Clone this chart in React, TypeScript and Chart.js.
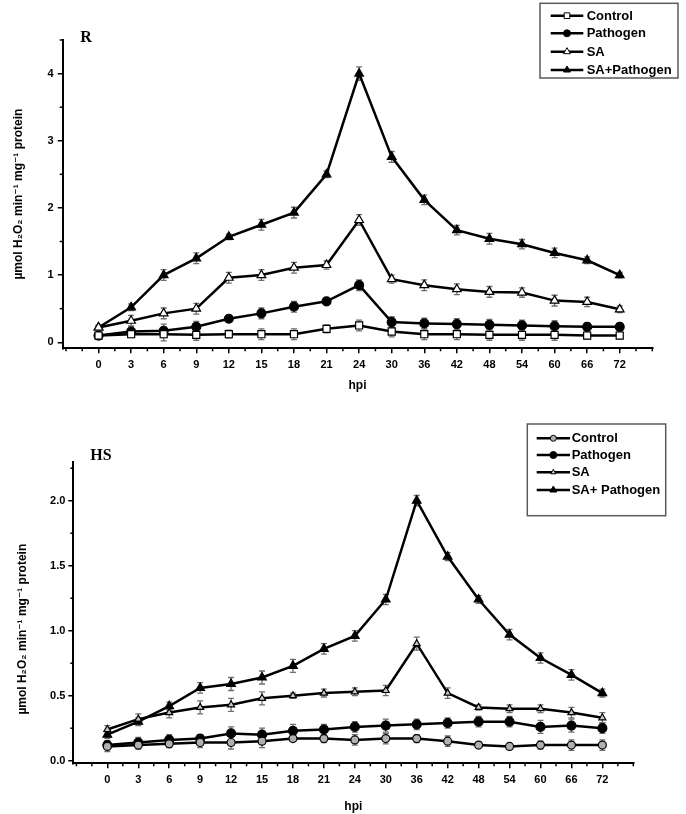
import { useEffect, useRef } from 'react';
import { Chart, registerables } from 'chart.js';

Chart.register(...registerables);

// ---------- data ----------
const hpiLabels = ['0', '3', '6', '9', '12', '15', '18', '21', '24', '30', '36', '42', '48', '54', '60', '66', '72'];

// Panel R
const rControl = [0.10, 0.12, 0.12, 0.11, 0.12, 0.12, 0.12, 0.20, 0.25, 0.16, 0.12, 0.12, 0.11, 0.11, 0.11, 0.10, 0.10];
const rControlErr = [0.03, 0.05, 0.10, 0.08, 0.06, 0.08, 0.08, 0.06, 0.08, 0.08, 0.08, 0.08, 0.08, 0.08, 0.08, 0.05, 0.05];
const rPathogen = [0.10, 0.16, 0.17, 0.23, 0.35, 0.43, 0.53, 0.61, 0.85, 0.30, 0.28, 0.27, 0.26, 0.25, 0.24, 0.23, 0.23];
const rPathogenErr = [0.03, 0.08, 0.10, 0.08, 0.05, 0.08, 0.08, 0.05, 0.08, 0.08, 0.08, 0.08, 0.08, 0.08, 0.08, 0.06, 0.06];
const rSA = [0.22, 0.32, 0.43, 0.50, 0.96, 1.00, 1.11, 1.15, 1.82, 0.94, 0.85, 0.79, 0.75, 0.74, 0.62, 0.60, 0.49];
const rSAErr = [0.03, 0.08, 0.08, 0.08, 0.08, 0.08, 0.08, 0.06, 0.08, 0.06, 0.08, 0.08, 0.08, 0.07, 0.08, 0.07, 0.05];
const rSAPathogen = [0.22, 0.52, 1.00, 1.25, 1.57, 1.75, 1.93, 2.50, 4.00, 2.76, 2.12, 1.67, 1.54, 1.46, 1.33, 1.22, 1.00];
const rSAPathogenErr = [0.03, 0.05, 0.08, 0.08, 0.04, 0.08, 0.08, 0.05, 0.10, 0.08, 0.07, 0.07, 0.08, 0.07, 0.07, 0.05, 0.04];
const rYTicks = [0, 1, 2, 3, 4];
const rYMinor = [0.5, 1.5, 2.5, 3.5, 4.5];
const rLegendLabels = ['Control', 'Pathogen', 'SA', 'SA+Pathogen'];

// Panel HS
const hsControl = [0.11, 0.12, 0.13, 0.14, 0.14, 0.15, 0.17, 0.17, 0.16, 0.17, 0.17, 0.15, 0.12, 0.11, 0.12, 0.12, 0.12];
const hsControlErr = [0.04, 0.03, 0.03, 0.04, 0.05, 0.05, 0.02, 0.03, 0.04, 0.04, 0.03, 0.04, 0.02, 0.02, 0.03, 0.04, 0.04];
const hsPathogen = [0.12, 0.14, 0.16, 0.17, 0.21, 0.20, 0.23, 0.24, 0.26, 0.27, 0.28, 0.29, 0.30, 0.30, 0.26, 0.27, 0.25];
const hsPathogenErr = [0.03, 0.04, 0.04, 0.03, 0.05, 0.05, 0.05, 0.04, 0.04, 0.05, 0.04, 0.04, 0.04, 0.04, 0.05, 0.05, 0.04];
const hsSA = [0.24, 0.32, 0.37, 0.41, 0.43, 0.48, 0.50, 0.52, 0.53, 0.54, 0.90, 0.52, 0.41, 0.40, 0.40, 0.37, 0.33];
const hsSAErr = [0.03, 0.04, 0.04, 0.05, 0.05, 0.05, 0.02, 0.03, 0.03, 0.04, 0.05, 0.04, 0.02, 0.03, 0.03, 0.04, 0.04];
const hsSAPathogen = [0.20, 0.30, 0.42, 0.56, 0.59, 0.64, 0.73, 0.86, 0.96, 1.24, 2.00, 1.57, 1.24, 0.97, 0.79, 0.66, 0.52];
const hsSAPathogenErr = [0.03, 0.03, 0.03, 0.04, 0.05, 0.05, 0.05, 0.04, 0.04, 0.04, 0.04, 0.03, 0.03, 0.04, 0.04, 0.04, 0.03];
const hsYTicks = [0, 0.5, 1.0, 1.5, 2.0];
const hsYMinor = [0.25, 0.75, 1.25, 1.75, 2.25];
const hsLegendLabels = ['Control', 'Pathogen', 'SA', 'SA+ Pathogen'];

const xMinor = [-1, -0.5, 0.5, 1.5, 2.5, 3.5, 4.5, 5.5, 6.5, 7.5, 8.5, 9.5, 10.5, 11.5, 12.5, 13.5, 14.5, 15.5, 16.5, 17];

const yTitle = 'µmol H\u2082O\u2082 min\u207B\u00B9 mg\u207B\u00B9 protein';

// ---------- helpers ----------
const SANS = '"Liberation Sans", Arial, "DejaVu Sans", sans-serif';
const SERIF = '"Liberation Serif", "Times New Roman", serif';

type Style = 'rect' | 'circle' | 'triangle';
interface SeriesDef {
  label: string;
  values: number[];
  errors: number[];
  style: Style;
  fill: string;
  radius: number;
}

function markerPath(ctx: CanvasRenderingContext2D, style: Style, x: number, y: number, r: number) {
  ctx.beginPath();
  if (style === 'circle') {
    ctx.arc(x, y, r, 0, Math.PI * 2);
  } else if (style === 'rect') {
    const s = r * Math.SQRT1_2;
    ctx.rect(x - s, y - s, 2 * s, 2 * s);
  } else {
    const a = Math.PI / 6;
    ctx.moveTo(x, y - r);
    ctx.lineTo(x + Math.cos(a) * r, y + Math.sin(a) * r);
    ctx.lineTo(x - Math.cos(a) * r, y + Math.sin(a) * r);
    ctx.closePath();
  }
}

interface PanelCfg {
  width: number;
  height: number;
  area: { left: number; right: number; top: number; bottom: number };
  yMin: number;
  yMax: number;
  yTicks: number[];
  yMinor: number[];
  yFmt: (v: number) => string;
  yTickPad: number;
  yTitlePad: number;
  yTitleText: string;
  xTitlePad: number;
  panelLabel: string;
  panelPos: [number, number];
  legendBox: [number, number, number, number];
  legendRows: number[];
  legendLine: [number, number];
  legendTextX: number;
  series: SeriesDef[];
}

function Panel({ cfg }: { cfg: PanelCfg }) {
  const ref = useRef<HTMLCanvasElement | null>(null);
  useEffect(() => {
    if (!ref.current) return;
    const tickFont = { family: SANS, size: 11, weight: 'bold' as const };
    const titleFont = { family: SANS, size: 12, weight: 'bold' as const };

    const decoPlugin = {
      id: 'deco',
      beforeDatasetsDraw(chart: any) {
        const ctx = chart.ctx as CanvasRenderingContext2D;
        const xs = chart.scales.x;
        const ys = chart.scales.y;
        ctx.save();
        ctx.strokeStyle = '#6e6e6e';
        ctx.lineWidth = 1.3;
        chart.data.datasets.forEach((ds: any) => {
          ds.data.forEach((p: any, i: number) => {
            const e = ds.errors[i];
            const x = xs.getPixelForValue(p.x);
            const y1 = ys.getPixelForValue(p.y - e);
            const y2 = ys.getPixelForValue(p.y + e);
            ctx.beginPath();
            ctx.moveTo(x, y1);
            ctx.lineTo(x, y2);
            ctx.moveTo(x - 3, y1);
            ctx.lineTo(x + 3, y1);
            ctx.moveTo(x - 3, y2);
            ctx.lineTo(x + 3, y2);
            ctx.stroke();
          });
        });
        ctx.restore();
      },
      afterDraw(chart: any) {
        const ctx = chart.ctx as CanvasRenderingContext2D;
        const xs = chart.scales.x;
        const ys = chart.scales.y;
        const ca = chart.chartArea;
        ctx.save();
        // minor ticks
        ctx.strokeStyle = '#000';
        ctx.lineWidth = 1.5;
        xMinor.forEach((v) => {
          const x = xs.getPixelForValue(v);
          ctx.beginPath();
          ctx.moveTo(x, ca.bottom);
          ctx.lineTo(x, ca.bottom + 3);
          ctx.stroke();
        });
        cfg.yMinor.forEach((v) => {
          const y = ys.getPixelForValue(v);
          ctx.beginPath();
          ctx.moveTo(ca.left, y);
          ctx.lineTo(ca.left - 3, y);
          ctx.stroke();
        });
        // panel label
        ctx.fillStyle = '#000';
        ctx.font = `bold 16px ${SERIF}`;
        ctx.textAlign = 'center';
        ctx.textBaseline = 'middle';
        ctx.fillText(cfg.panelLabel, cfg.panelPos[0], cfg.panelPos[1]);
        // legend
        const [bx, by, bw, bh] = cfg.legendBox;
        ctx.strokeStyle = '#5a5a5a';
        ctx.lineWidth = 1.5;
        ctx.strokeRect(bx, by, bw, bh);
        ctx.font = `bold 13px ${SANS}`;
        ctx.textAlign = 'left';
        cfg.series.forEach((s, i) => {
          const y = cfg.legendRows[i];
          ctx.strokeStyle = '#000';
          ctx.lineWidth = 2.5;
          ctx.beginPath();
          ctx.moveTo(cfg.legendLine[0], y);
          ctx.lineTo(cfg.legendLine[1], y);
          ctx.stroke();
          const mx = (cfg.legendLine[0] + cfg.legendLine[1]) / 2;
          markerPath(ctx, s.style, mx, y, Math.max(2.5, s.radius - 1));
          ctx.fillStyle = s.fill;
          ctx.fill();
          ctx.lineWidth = 1;
          ctx.stroke();
          ctx.fillStyle = '#000';
          ctx.fillText(s.label, cfg.legendTextX, y + 0.5);
        });
        ctx.restore();
      },
    };

    const chart = new Chart(ref.current, {
      type: 'line',
      data: {
        datasets: cfg.series.map((s) => ({
          label: s.label,
          data: s.values.map((v, i) => ({ x: i, y: v })),
          errors: s.errors,
          borderColor: '#000',
          borderWidth: 2.5,
          pointStyle: s.style,
          pointRadius: s.radius,
          pointBackgroundColor: s.fill,
          pointBorderColor: '#000',
          pointBorderWidth: 1.2,
          tension: 0,
          fill: false,
        })) as any,
      },
      options: {
        animation: false,
        responsive: false,
        maintainAspectRatio: false,
        events: [],
        layout: {
          padding: {
            left: 0,
            top: cfg.area.top,
            right: cfg.width - cfg.area.right,
            bottom: 0,
          },
        },
        plugins: {
          legend: { display: false },
          tooltip: { enabled: false },
        },
        scales: {
          x: {
            type: 'linear',
            min: -1.1,
            max: 17,
            afterBuildTicks: (s: any) => {
              s.ticks = hpiLabels.map((_, i) => ({ value: i }));
            },
            afterFit: (s: any) => {
              s.height = cfg.height - cfg.area.bottom;
            },
            ticks: {
              autoSkip: false,
              maxRotation: 0,
              padding: 5,
              color: '#000',
              font: tickFont,
              callback: (v: any) => hpiLabels[Number(v)] ?? '',
            },
            grid: { drawOnChartArea: false, drawTicks: true, tickLength: 5, color: '#000', lineWidth: 1.5 },
            border: { display: true, color: '#000', width: 2 },
            title: {
              display: true,
              text: 'hpi',
              color: '#000',
              font: titleFont,
              padding: { top: 0, bottom: cfg.xTitlePad },
            },
          },
          y: {
            type: 'linear',
            min: cfg.yMin,
            max: cfg.yMax,
            afterBuildTicks: (s: any) => {
              s.ticks = cfg.yTicks.map((v) => ({ value: v }));
            },
            afterFit: (s: any) => {
              s.width = cfg.area.left;
            },
            ticks: {
              padding: cfg.yTickPad,
              color: '#000',
              font: tickFont,
              callback: (v: any) => cfg.yFmt(Number(v)),
            },
            grid: { drawOnChartArea: false, drawTicks: true, tickLength: 5, color: '#000', lineWidth: 1.5 },
            border: { display: true, color: '#000', width: 2 },
            title: {
              display: true,
              text: cfg.yTitleText,
              color: '#000',
              font: titleFont,
              padding: { top: cfg.yTitlePad, bottom: 0 },
            },
          },
        },
      } as any,
      plugins: [decoPlugin],
    });
    return () => chart.destroy();
  }, [cfg]);
  return <canvas ref={ref} width={cfg.width} height={cfg.height} style={{ display: 'block', width: cfg.width, height: cfg.height }} />;
}

const rPanel: PanelCfg = {
  width: 686,
  height: 400,
  area: { left: 62.7, right: 652.3, top: 40, bottom: 348.3 },
  yMin: -0.09,
  yMax: 4.5,
  yTicks: rYTicks,
  yMinor: rYMinor,
  yFmt: (v) => String(v),
  yTickPad: 4,
  yTitlePad: 11.3,
  yTitleText: yTitle,
  xTitlePad: 7,
  panelLabel: 'R',
  panelPos: [86, 38],
  legendBox: [540, 3.3, 138, 74.7],
  legendRows: [15.7, 33.3, 51.7, 70],
  legendLine: [550.7, 583.3],
  legendTextX: 586.7,
  series: [
    { label: rLegendLabels[0], values: rControl, errors: rControlErr, style: 'rect', fill: '#ffffff', radius: 5 },
    { label: rLegendLabels[1], values: rPathogen, errors: rPathogenErr, style: 'circle', fill: '#000000', radius: 4.5 },
    { label: rLegendLabels[2], values: rSA, errors: rSAErr, style: 'triangle', fill: '#ffffff', radius: 5 },
    { label: rLegendLabels[3], values: rSAPathogen, errors: rSAPathogenErr, style: 'triangle', fill: '#000000', radius: 5 },
  ],
};

const hsPanel: PanelCfg = {
  width: 686,
  height: 414,
  area: { left: 73.3, right: 633.3, top: 61.7, bottom: 363.3 },
  yMin: -0.02,
  yMax: 2.3,
  yTicks: hsYTicks,
  yMinor: hsYMinor,
  yFmt: (v) => v.toFixed(1),
  yTickPad: 3,
  yTitlePad: 15.3,
  yTitleText: yTitle + '          ',
  xTitlePad: 0,
  panelLabel: 'HS',
  panelPos: [101, 56],
  legendBox: [527.3, 24, 138.4, 91.7],
  legendRows: [38.3, 55, 72.3, 90],
  legendLine: [536.7, 570],
  legendTextX: 571.7,
  series: [
    { label: hsLegendLabels[0], values: hsControl, errors: hsControlErr, style: 'circle', fill: '#b0b0b0', radius: 4 },
    { label: hsLegendLabels[1], values: hsPathogen, errors: hsPathogenErr, style: 'circle', fill: '#000000', radius: 4.5 },
    { label: hsLegendLabels[2], values: hsSA, errors: hsSAErr, style: 'triangle', fill: '#c8c8c8', radius: 4 },
    { label: hsLegendLabels[3], values: hsSAPathogen, errors: hsSAPathogenErr, style: 'triangle', fill: '#000000', radius: 5 },
  ],
};

export default function App() {
  return (
    <div style={{ position: 'absolute', left: 0, top: 0, width: 686, height: 814, background: '#fff' }}>
      <Panel cfg={rPanel} />
      <Panel cfg={hsPanel} />
    </div>
  );
}
